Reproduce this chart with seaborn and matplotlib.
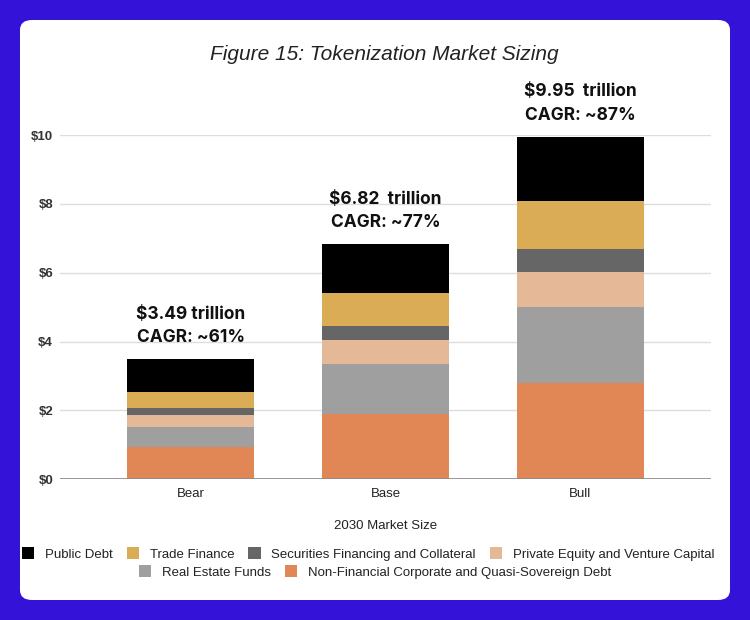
import matplotlib
matplotlib.use("Agg")
import matplotlib.pyplot as plt
from matplotlib.patches import FancyBboxPatch, Patch
import seaborn as sns
import pandas as pd
import numpy as np

scenarios = ["Bear", "Base", "Bull"]
series_names = [
    "Public Debt",
    "Trade Finance",
    "Securities Financing and Collateral",
    "Private Equity and Venture Capital",
    "Real Estate Funds",
    "Non-Financial Corporate and Quasi-Sovereign Debt",
]
# values in $ trillions
public_debt = [0.95, 1.40, 1.87]
trade_finance = [0.48, 0.96, 1.40]
securities_financing = [0.19, 0.41, 0.66]
private_equity = [0.36, 0.70, 1.02]
real_estate = [0.58, 1.46, 2.21]
corporate_debt = [0.93, 1.89, 2.79]
totals_label = ["$3.49 trillion", "$6.82  trillion", "$9.95  trillion"]
cagr_label = ["CAGR: ~61%", "CAGR: ~77%", "CAGR: ~87%"]
y_ticks = [0, 2, 4, 6, 8, 10]
y_tick_labels = ["$0", "$2", "$4", "$6", "$8", "$10"]
x_title = "2030 Market Size"
title = "Figure 15: Tokenization Market Sizing"

colors = {
    "Public Debt": "#000000",
    "Trade Finance": "#DAAC56",
    "Securities Financing and Collateral": "#666666",
    "Private Equity and Venture Capital": "#E5B898",
    "Real Estate Funds": "#9F9F9F",
    "Non-Financial Corporate and Quasi-Sovereign Debt": "#E08755",
}

sns.set_theme(style="white")
plt.rcParams["font.family"] = ["Liberation Sans", "DejaVu Sans"]

# stacking order bottom -> top
stack = [
    ("Non-Financial Corporate and Quasi-Sovereign Debt", corporate_debt),
    ("Real Estate Funds", real_estate),
    ("Private Equity and Venture Capital", private_equity),
    ("Securities Financing and Collateral", securities_financing),
    ("Trade Finance", trade_finance),
    ("Public Debt", public_debt),
]
rows = []
cum = np.zeros(3)
for name, vals in stack:
    cum = cum + np.array(vals)
    for s, c in zip(scenarios, cum):
        rows.append({"scenario": s, "series": name, "cum": c})
df = pd.DataFrame(rows)

W, H = 750, 620
fig = plt.figure(figsize=(7.5, 6.2), dpi=100)
fig.patch.set_facecolor("#3412D8")
panel = FancyBboxPatch((20 / W, 20 / H), 710 / W, 580 / H,
                       boxstyle="round,pad=0,rounding_size=0.016",
                       transform=fig.transFigure, facecolor="white",
                       edgecolor="none", zorder=-10)
fig.patches.append(panel)

ax = fig.add_axes([60 / W, (H - 479.3) / H, 651 / W, (479.3 - 135) / H])
ax.set_zorder(5)
ax.set_facecolor("none")

# draw tallest cumulative first so lower layers overlay
for name, _ in reversed(stack):
    sub = df[df["series"] == name]
    sns.barplot(data=sub, x="scenario", y="cum", order=scenarios,
                color=colors[name], width=0.653, saturation=1,
                ax=ax, zorder=3, linewidth=0)

ax.set_xlim(-0.673, 2.673)
ax.set_ylim(0, 10)
ax.set_yticks(y_ticks)
ax.set_yticklabels(y_tick_labels, fontweight="bold", color="#333333", fontsize=9.5)
ax.tick_params(axis="y", length=0, pad=5)
ax.tick_params(axis="x", length=0, pad=6, labelsize=9.5, labelcolor="#222222")
ax.grid(axis="y", color="#DDDDDD", linewidth=1, zorder=0)
ax.set_axisbelow(True)
for sp in ax.spines.values():
    sp.set_visible(False)
ax.axhline(0, color="#888888", linewidth=1.2, zorder=4)
ax.set_ylabel("")
ax.set_xlabel(x_title, fontsize=9.5, color="#222222", labelpad=15)

totals = np.array(corporate_debt) + np.array(real_estate) + np.array(private_equity) \
    + np.array(securities_financing) + np.array(trade_finance) + np.array(public_debt)
for i, (t, l1, l2) in enumerate(zip(totals, totals_label, cagr_label)):
    ax.annotate(l2, (i, t), xytext=(0, 15.5), textcoords="offset points",
                ha="center", va="center", fontsize=12.5, fontweight="bold",
                family=["Inter", "DejaVu Sans"], color="#111111", annotation_clip=False)
    ax.annotate(l1, (i, t), xytext=(0, 32.5), textcoords="offset points",
                ha="center", va="center", fontsize=12.5, fontweight="bold",
                family=["Inter", "DejaVu Sans"], color="#111111", annotation_clip=False)

fig.text(384 / W, 1 - 55 / H, title, ha="center", va="center", fontsize=15,
         style="italic", color="#222222")

handles = [Patch(facecolor=colors[n], edgecolor="none", label=n) for n in series_names]
leg_kw = dict(frameon=False, fontsize=9.5, handlelength=0.95, handleheight=1.0,
              handletextpad=0.8, columnspacing=1.05, borderaxespad=0, borderpad=0,
              labelcolor="#222222")
fig.legend(handles=handles[:4], loc="center", bbox_to_anchor=(368 / W, 1 - 554 / H),
           ncol=4, **leg_kw)
fig.legend(handles=handles[4:], loc="center", bbox_to_anchor=(375 / W, 1 - 572 / H),
           ncol=2, **leg_kw)

fig.savefig("out.png", dpi=100, facecolor=fig.get_facecolor())
